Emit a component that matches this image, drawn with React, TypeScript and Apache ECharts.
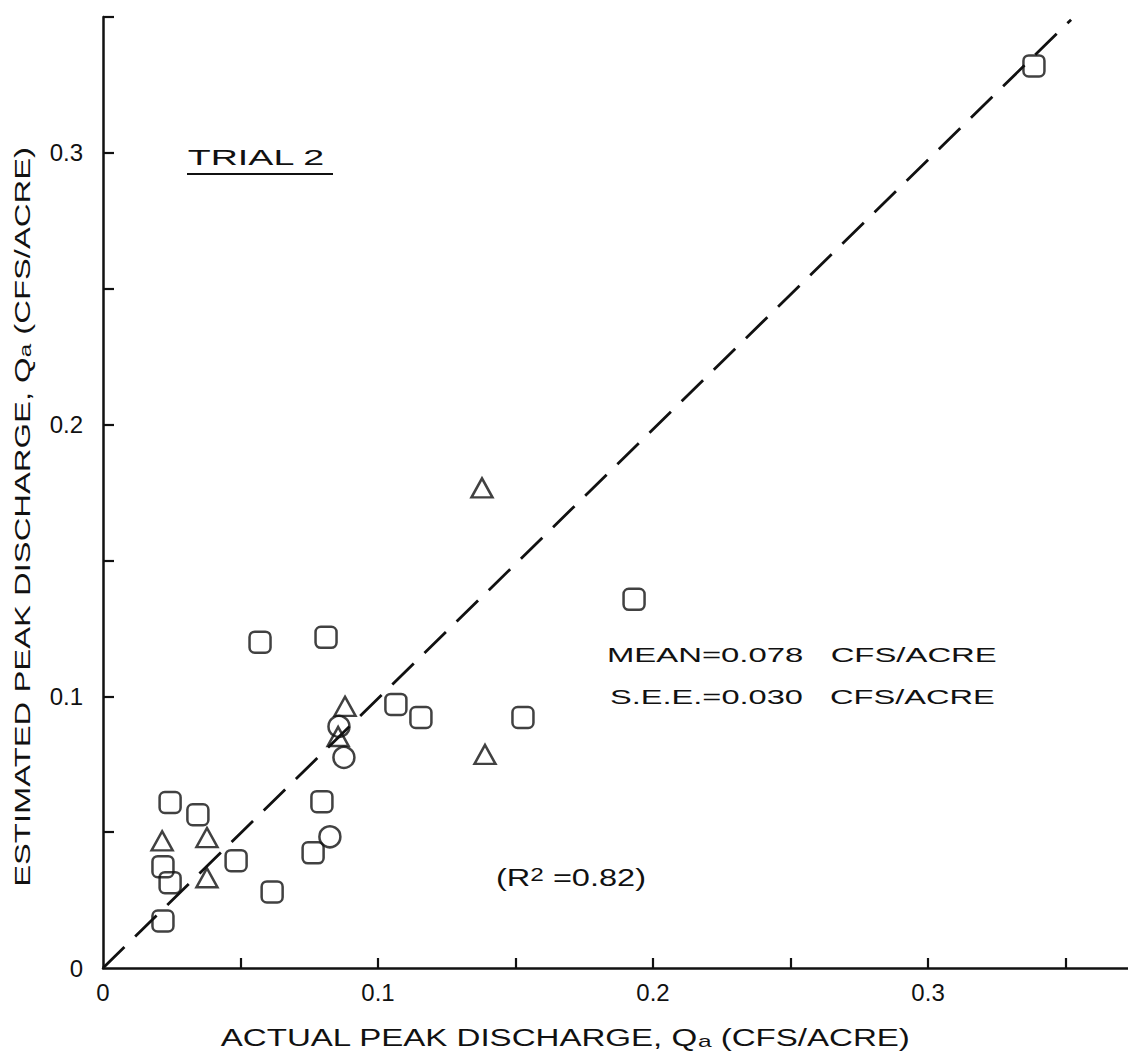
import React, { useEffect, useRef } from "react";
import * as echarts from "echarts";

// Actual vs estimated peak discharge (cfs/acre)
const squarePoints: number[][] = [
  [0.3385, 0.332],
  [0.1931, 0.1357],
  [0.0571, 0.1199],
  [0.0811, 0.1217],
  [0.1065, 0.097],
  [0.1156, 0.0922],
  [0.1527, 0.0922],
  [0.0244, 0.0609],
  [0.0345, 0.0564],
  [0.0796, 0.0612],
  [0.0218, 0.0373],
  [0.0244, 0.0314],
  [0.0484, 0.0395],
  [0.0764, 0.0424],
  [0.0615, 0.028],
  [0.0218, 0.0173],
];
const trianglePoints: number[][] = [
  [0.1378, 0.1767],
  [0.1389, 0.0786],
  [0.088, 0.0963],
  [0.0855, 0.0852],
  [0.0215, 0.0468],
  [0.0378, 0.048],
  [0.0378, 0.0332],
];
const circlePoints: number[][] = [
  [0.0858, 0.0889],
  [0.0876, 0.0775],
  [0.0825, 0.0483],
];
const equalityLine: number[][] = [
  [0, 0],
  [0.352, 0.349],
];
const xTickValues = [0.05, 0.1, 0.15, 0.2, 0.25, 0.3, 0.35];
const xLabelValues = [0, 0.1, 0.2, 0.3];
const yTickValues = [0.05, 0.1, 0.15, 0.2, 0.25, 0.3, 0.35];
const yLabelValues = [0, 0.1, 0.2, 0.3];

const titleX = "ACTUAL PEAK DISCHARGE, Q";
const titleY = "ESTIMATED PEAK DISCHARGE, Q";
const titleSub = "a";
const titleUnit = " (CFS/ACRE)";
const trialText = "TRIAL 2";
const meanText = "MEAN=0.078   CFS/ACRE";
const seeText = "S.E.E.=0.030   CFS/ACRE";
const r2Pre = "(R";
const r2Sup = "2";
const r2Post = " =0.82)";

const FONT = "'Liberation Sans', Arial, sans-serif";
const INK = "#111";

function measure(text: string, size: number): number {
  const ctx = document.createElement("canvas").getContext("2d");
  if (!ctx) return text.length * size * 0.6;
  ctx.font = `${size}px ${FONT}`;
  return ctx.measureText(text).width;
}

export default function App() {
  const ref = useRef<HTMLDivElement>(null);
  useEffect(() => {
    document.body.style.margin = "0";
    if (!ref.current) return;
    const chart = echarts.init(ref.current, undefined, { renderer: "svg" });

    const tSize = 23;
    const sSize = 17;
    const xTitleW = measure(titleX, tSize) + measure(titleSub, sSize) + measure(titleUnit, tSize);
    const yTitleW = measure(titleY, tSize) + measure(titleSub, sSize) + measure(titleUnit, tSize);
    const trialW = measure(trialText, 22);
    const meanW = measure(meanText, 21);
    const seeW = measure(seeText, 21);
    const r2W = measure(r2Pre, 24) + measure(r2Sup, 18) + measure(r2Post, 24);

    const rich = {
      t: { fontSize: tSize, fontFamily: FONT, fill: INK, color: INK },
      s: { fontSize: sSize, fontFamily: FONT, fill: INK, color: INK, verticalAlign: "bottom" as const },
    };

    const fmt = (v: number) => (v === 0 ? "0" : v.toFixed(1));
    const markerStyle = { color: "rgba(255,255,255,0)", borderColor: INK, borderWidth: 2.5 };

    chart.setOption({
      animation: false,
      backgroundColor: "#fff",
      grid: { left: 103, right: 0, top: 17, bottom: 92, containLabel: false },
      xAxis: {
        type: "value",
        min: 0,
        max: 0.3727,
        splitLine: { show: false },
        axisLine: { show: true, onZero: false, lineStyle: { color: INK, width: 2.5 } },
        axisTick: { show: true, inside: true, length: 10, customValues: xTickValues, lineStyle: { color: INK, width: 2.2 } },
        axisLabel: { show: true, customValues: xLabelValues, formatter: fmt, color: INK, fontFamily: FONT, fontSize: 24, margin: 12 },
      },
      yAxis: {
        type: "value",
        min: 0,
        max: 0.35,
        splitLine: { show: false },
        axisLine: { show: true, onZero: false, lineStyle: { color: INK, width: 2.5 } },
        axisTick: { show: true, inside: true, length: 11, customValues: yTickValues, lineStyle: { color: INK, width: 2.2 } },
        axisLabel: { show: true, customValues: yLabelValues, formatter: fmt, color: INK, fontFamily: FONT, fontSize: 24, margin: 20 },
      },
      series: [
        {
          type: "line",
          data: equalityLine,
          symbol: "none",
          silent: true,
          z: 1,
          lineStyle: { color: INK, width: 2.8, type: [30, 15] },
        },
        {
          type: "scatter",
          data: squarePoints,
          symbol: "roundRect",
          symbolSize: 21,
          z: 3,
          itemStyle: markerStyle,
        },
        {
          type: "scatter",
          data: trianglePoints,
          symbol: "triangle",
          symbolSize: [21, 19],
          z: 3,
          itemStyle: markerStyle,
        },
        {
          type: "scatter",
          data: circlePoints,
          symbol: "circle",
          symbolSize: 21,
          z: 3,
          itemStyle: markerStyle,
        },
      ],
      graphic: [
        {
          type: "text",
          x: 565,
          y: 1038,
          scaleX: 690 / xTitleW,
          style: {
            text: `{t|${titleX}}{s|${titleSub}}{t|${titleUnit}}`,
            rich,
            fill: INK,
            align: "center",
            verticalAlign: "middle",
            textAlign: "center",
            textVerticalAlign: "middle",
          },
        },
        {
          type: "text",
          x: 22,
          y: 517,
          rotation: Math.PI / 2,
          scaleX: 740 / yTitleW,
          style: {
            text: `{t|${titleY}}{s|${titleSub}}{t|${titleUnit}}`,
            rich,
            fill: INK,
            align: "center",
            verticalAlign: "middle",
            textAlign: "center",
            textVerticalAlign: "middle",
          },
        },
        {
          type: "text",
          x: 256,
          y: 158,
          scaleX: 138 / trialW,
          style: {
            text: trialText,
            fill: INK,
            fontSize: 22,
            fontFamily: FONT,
            align: "center",
            verticalAlign: "middle",
            textAlign: "center",
            textVerticalAlign: "middle",
          },
        },
        {
          type: "line",
          shape: { x1: 187, y1: 174, x2: 333, y2: 174 },
          style: { stroke: INK, lineWidth: 2.2 },
        },
        {
          type: "text",
          x: 607,
          y: 655,
          scaleX: 390 / meanW,
          style: {
            text: meanText,
            fill: INK,
            fontSize: 21,
            fontFamily: FONT,
            align: "left",
            verticalAlign: "middle",
            textAlign: "left",
            textVerticalAlign: "middle",
          },
        },
        {
          type: "text",
          x: 610,
          y: 697,
          scaleX: 385 / seeW,
          style: {
            text: seeText,
            fill: INK,
            fontSize: 21,
            fontFamily: FONT,
            align: "left",
            verticalAlign: "middle",
            textAlign: "left",
            textVerticalAlign: "middle",
          },
        },
        {
          type: "text",
          x: 496,
          y: 878,
          scaleX: 150 / r2W,
          style: {
            text: `{p|${r2Pre}}{sup|${r2Sup}}{p|${r2Post}}`,
            rich: {
              p: { fontSize: 24, fontFamily: FONT, fill: INK, color: INK },
              sup: { fontSize: 18, fontFamily: FONT, fill: INK, color: INK, verticalAlign: "top" },
            },
            fill: INK,
            align: "left",
            verticalAlign: "middle",
            textAlign: "left",
            textVerticalAlign: "middle",
          },
        },
      ],
    });
    return () => chart.dispose();
  }, []);
  return <div ref={ref} style={{ width: 1128, height: 1060 }} />;
}
